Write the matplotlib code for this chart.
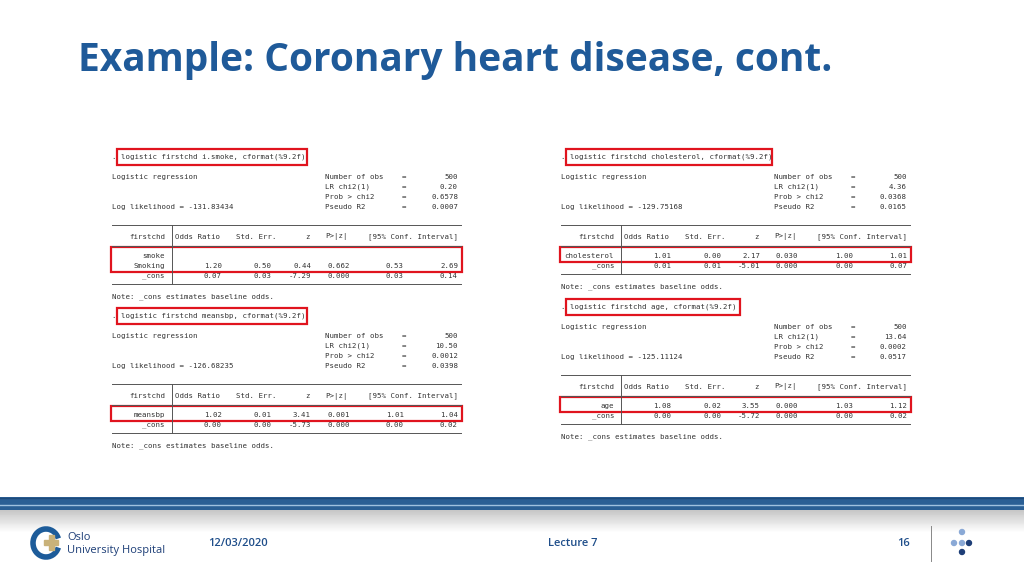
import matplotlib
matplotlib.use("Agg")
import matplotlib.pyplot as plt
from matplotlib.patches import Rectangle, Circle, Arc
import numpy as np

W, H = 1024, 576
commands = [". logistic firstchd i.smoke, cformat(%9.2f)",
            ". logistic firstchd meansbp, cformat(%9.2f)",
            ". logistic firstchd cholesterol, cformat(%9.2f)",
            ". logistic firstchd age, cformat(%9.2f)"]
n_obs = ["500", "500", "500", "500"]
lr_chi2 = ["0.20", "10.50", "4.36", "13.64"]
prob_chi2 = ["0.6578", "0.0012", "0.0368", "0.0002"]
pseudo_r2 = ["0.0007", "0.0398", "0.0165", "0.0517"]
loglik = ["-131.83434", "-126.68235", "-129.75168", "-125.11124"]
var_names = ["Smoking", "meansbp", "cholesterol", "age"]
odds = [["1.20", "0.07"], ["1.02", "0.00"], ["1.01", "0.01"], ["1.08", "0.00"]]
se = [["0.50", "0.03"], ["0.01", "0.00"], ["0.00", "0.01"], ["0.02", "0.00"]]
zval = [["0.44", "-7.29"], ["3.41", "-5.73"], ["2.17", "-5.01"], ["3.55", "-5.72"]]
pval = [["0.662", "0.000"], ["0.001", "0.000"], ["0.030", "0.000"], ["0.000", "0.000"]]
ci_lo = [["0.53", "0.03"], ["1.01", "0.00"], ["1.00", "0.00"], ["1.03", "0.00"]]
ci_hi = [["2.69", "0.14"], ["1.04", "0.02"], ["1.01", "0.07"], ["1.12", "0.02"]]

fig = plt.figure(figsize=(W/100, H/100), dpi=100)
ax = fig.add_axes([0, 0, 1, 1])
ax.set_xlim(0, W); ax.set_ylim(H, 0); ax.axis("off")

MONO = dict(family="DejaVu Sans Mono", fontsize=5.3, color="#333333", va="center")
RED = "#e0141e"

def t(x, y, s, ha="left"):
    ax.text(x, y, s, ha=ha, **MONO)

def panel(i, x0, y0, cmdw, factor=False):
    t(x0, y0, commands[i])
    ax.add_patch(Rectangle((x0+5, y0-8), cmdw, 16, fill=False, ec=RED, lw=1.6))
    y = y0 + 20
    t(x0, y, "Logistic regression")
    labels = ["Number of obs", "LR chi2(1)", "Prob > chi2", "Pseudo R2"]
    vals = [n_obs[i], lr_chi2[i], prob_chi2[i], pseudo_r2[i]]
    for k in range(4):
        t(x0+213, y+10*k, labels[k]); t(x0+292, y+10*k, "=", "center")
        t(x0+346, y+10*k, vals[k], "right")
    t(x0, y+30, "Log likelihood = " + loglik[i])
    yt = y + 48
    ax.plot([x0, x0+349], [yt, yt], color="#555", lw=0.7)
    yh = yt + 12
    hdr = [(53, "firstchd", "right"), (63, "Odds Ratio", "left"), (124, "Std. Err.", "left"),
           (198, "z", "right"), (213, "P>|z|", "left"), (346, "[95% Conf. Interval]", "right")]
    for dx, s, ha in hdr:
        t(x0+dx, yh, s, ha)
    ys = yh + 9
    ax.plot([x0, x0+349], [ys, ys], color="#555", lw=0.7)
    yr = ys + 10
    if factor:
        t(x0+53, yr, "smoke", "right"); yr += 10
    names = [var_names[i], "_cons"]
    for r in range(2):
        yy = yr + 10*r
        t(x0+53, yy, names[r], "right")
        t(x0+110, yy, odds[i][r], "right"); t(x0+160, yy, se[i][r], "right")
        t(x0+199, yy, zval[i][r], "right"); t(x0+215, yy, pval[i][r])
        t(x0+292, yy, ci_lo[i][r], "right"); t(x0+346, yy, ci_hi[i][r], "right")
    yb = yr + 18
    ax.plot([x0, x0+349], [yb, yb], color="#555", lw=0.7)
    ax.plot([x0+60, x0+60], [yt, yb], color="#555", lw=0.7)
    top = ys + 1
    ax.add_patch(Rectangle((x0-1, top), 351, yr + 6 - top, fill=False, ec=RED, lw=1.6))
    t(x0, yb + 13, "Note: _cons estimates baseline odds.")

panel(0, 112, 157, 190, factor=True)
panel(1, 112, 316, 190)
panel(2, 561, 157, 206)
panel(3, 561, 307, 174)

ax.text(78, 60, "Example: Coronary heart disease, cont.", fontsize=28, fontweight="bold",
        color="#1f5a99", family="Open Sans", va="center")

grad = np.linspace(0, 1, 25)
for k, g in enumerate(grad):
    c = (0.78 + 0.22*g,)*3
    ax.fill_between([0, W], 510+k*0.9, 511+k*0.9, color=c, lw=0)
ax.add_patch(Rectangle((0, 497), W, 13, color="#2a5f95", lw=0))
ax.plot([0, W], [505, 505], color="#9fc1e0", lw=1)
ax.plot([0, W], [497.5, 497.5], color="#1d4a7a", lw=1)

FT = dict(fontsize=8, color="#1f4e8a", family="Open Sans", va="center", fontweight="semibold")
ax.text(208, 544, "12/03/2020", **FT)
ax.text(573, 544, "Lecture 7", ha="center", **FT)
ax.text(910, 544, "16", ha="right", **FT)
ax.plot([931, 931], [526, 561], color="#888", lw=0.7)
for (cx, cy, col) in [(962, 532, "#8aa9d6"), (954, 543, "#8aa9d6"), (962, 543, "#8aa9d6"),
                      (969, 543, "#1d3e77"), (962, 552, "#1d3e77")]:
    ax.add_patch(Circle((cx, cy), 2.5, color=col))
ax.text(67, 537, "Oslo", fontsize=8, color="#1d3e77", family="Open Sans", va="center")
ax.text(67, 551, "University Hospital", fontsize=8, color="#1d3e77", family="Open Sans", va="center")
ax.add_patch(Arc((46, 543), 26, 28, theta1=20, theta2=340, color="#1d5c9a", lw=4))
ax.add_patch(Rectangle((44, 540), 14, 5, color="#c9b27a"))
ax.add_patch(Rectangle((48.5, 535), 5, 15, color="#c9b27a"))

fig.savefig("out.png", dpi=100)
